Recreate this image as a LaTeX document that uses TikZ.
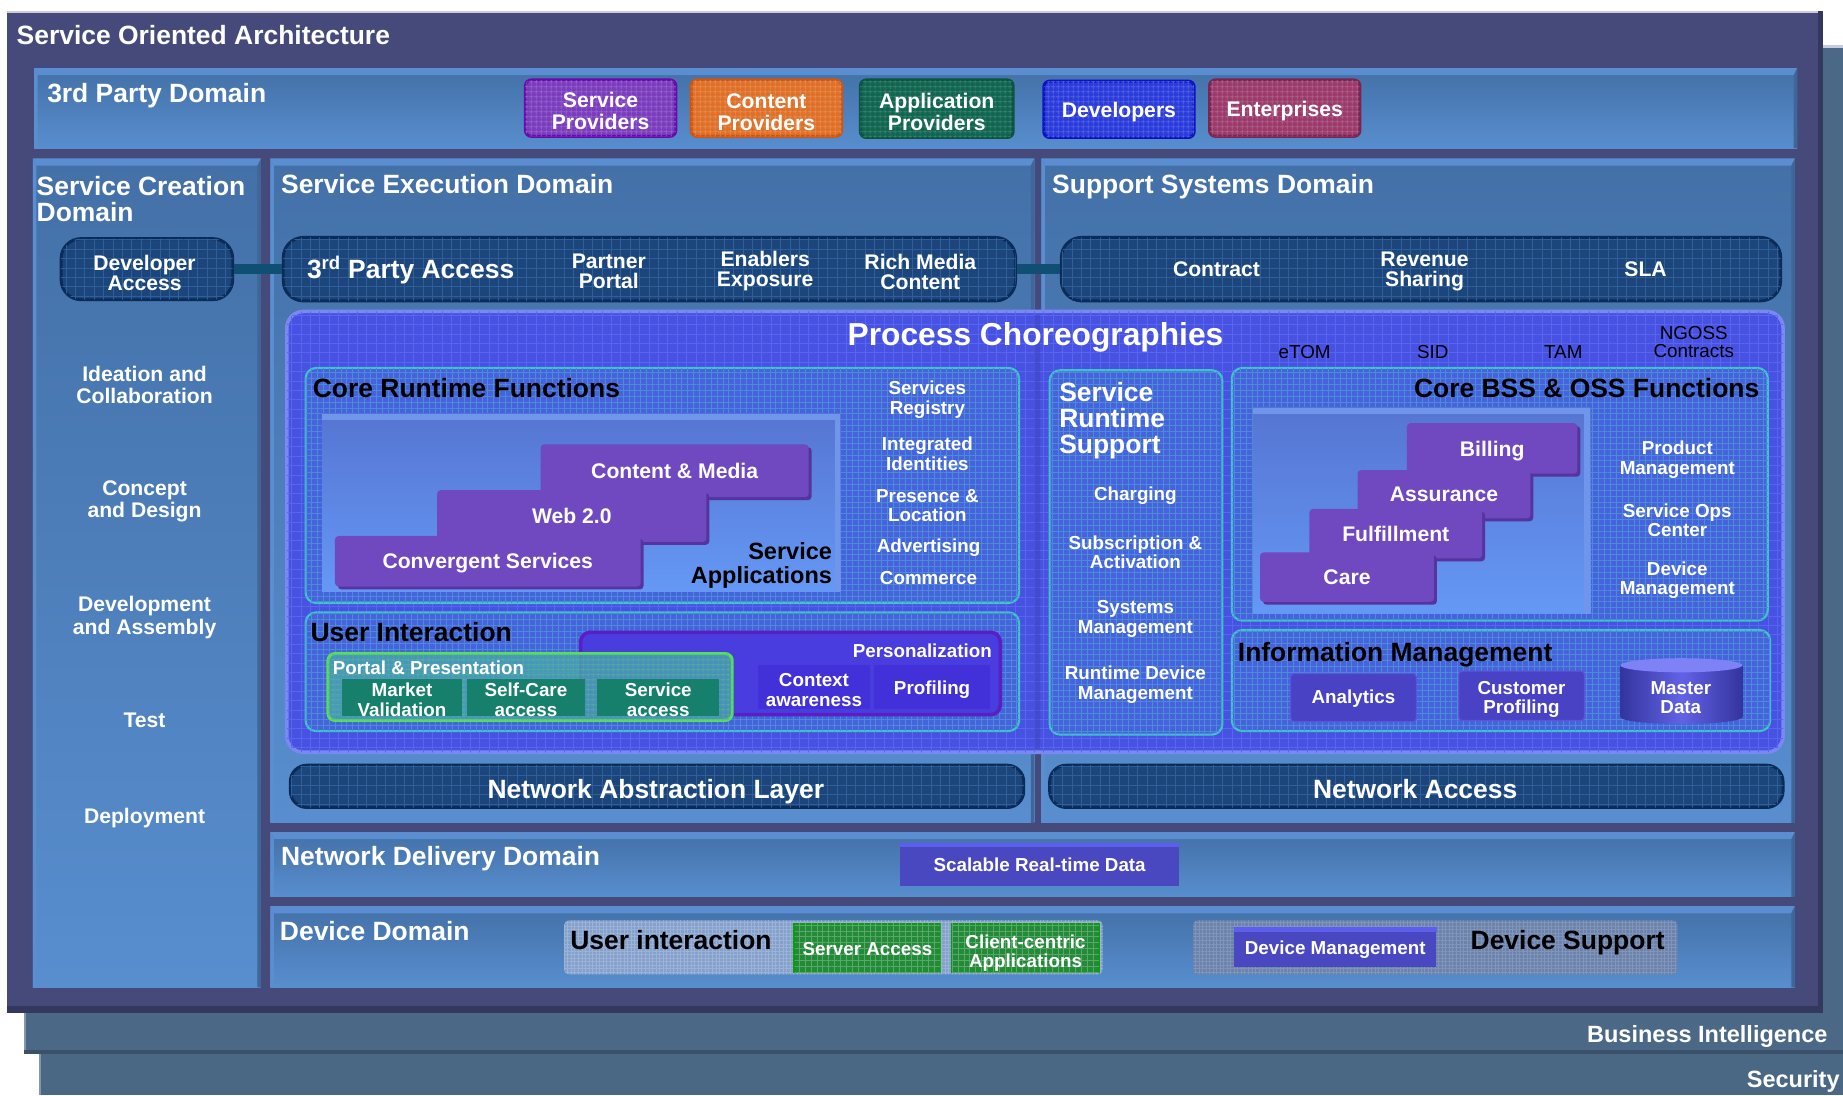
\documentclass[tikz,border=0pt]{standalone}
\usepackage{fontspec}
\setmainfont{Liberation Sans}
\usetikzlibrary{patterns.meta,shadows}
\definecolor{secC}{HTML}{4A6784}
\definecolor{secEdge}{HTML}{8296AE}
\definecolor{biC}{HTML}{4B6886}
\definecolor{biDk}{HTML}{3B5069}
\definecolor{soaC}{HTML}{464A7A}
\definecolor{soaDk}{HTML}{35385E}
\definecolor{soaLt}{HTML}{C9CBDD}
\definecolor{domTop}{HTML}{4370A7}
\definecolor{domBot}{HTML}{588ECF}
\definecolor{domLt}{HTML}{5A8ED0}
\definecolor{domDk}{HTML}{3E6699}
\definecolor{pillC}{HTML}{1C467B}
\definecolor{pillE}{HTML}{0B2C58}
\definecolor{pillG}{HTML}{2F5F98}
\definecolor{connC}{HTML}{0E4F73}
\definecolor{procC}{HTML}{4852E2}
\definecolor{procE}{HTML}{7C88F2}
\definecolor{procG}{HTML}{5865EE}
\definecolor{subC}{HTML}{4762DD}
\definecolor{subE}{HTML}{3CC6C8}
\definecolor{subG}{HTML}{4C8CD6}
\definecolor{panTop}{HTML}{5675D2}
\definecolor{panBot}{HTML}{6598F5}
\definecolor{panLt}{HTML}{7096EC}
\definecolor{purC}{HTML}{7049C0}
\definecolor{purD}{HTML}{5534A0}
\definecolor{persC}{HTML}{4A3DE0}
\definecolor{persE}{HTML}{5A1FC2}
\definecolor{ctxC}{HTML}{4231D8}
\definecolor{portC}{HTML}{4AA0B4}
\definecolor{portE}{HTML}{58DE58}
\definecolor{mktC}{HTML}{17806C}
\definecolor{anaC}{HTML}{4942C4}
\definecolor{anaE}{HTML}{5B55DA}
\definecolor{cylL}{HTML}{34349E}
\definecolor{cylM}{HTML}{6262E6}
\definecolor{cylT}{HTML}{7E82F6}
\definecolor{srdC}{HTML}{4A48C0}
\definecolor{srdLt}{HTML}{5E5EEE}
\definecolor{uipC}{HTML}{84A0CC}
\definecolor{dspC}{HTML}{6B82AC}
\definecolor{grnC}{HTML}{238A38}
\definecolor{grnE}{HTML}{0E9A0E}
\definecolor{spC}{HTML}{7B3DBE}
\definecolor{spE}{HTML}{6A0AAA}
\definecolor{cpC}{HTML}{E07028}
\definecolor{cpE}{HTML}{CF5512}
\definecolor{apC}{HTML}{106650}
\definecolor{apE}{HTML}{0A5542}
\definecolor{dvC}{HTML}{2B3CDC}
\definecolor{dvE}{HTML}{0A12C2}
\definecolor{enC}{HTML}{9B3B6C}
\definecolor{enE}{HTML}{7A2452}
\newcommand\myfs[2]{\fontsize{#1}{#2}\selectfont}
\newcommand\dombox[4]{%
  \path[top color=domTop, bottom color=domBot] (#1,#2) rectangle (#3,#4);
  \fill[domLt] (#1,#2) -- (#3,#2) -- (#3-3,#2+6) -- (#1+3,#2+6) -- cycle;
  \fill[domLt] (#1,#2) -- (#1+3,#2+6) -- (#1+3,#4) -- (#1,#4) -- cycle;
  \fill[domDk] (#3,#2) -- (#3,#4) -- (#3-3,#4) -- (#3-3,#2+6) -- cycle;}
\tikzset{
  wt/.style={text=white, align=center, inner sep=0pt, font=\bfseries\myfs{18}{17}},
  s18/.style={wt, text depth=0pt},
  p18/.style={wt, yshift=-2pt},
  m18/.style={wt, font=\bfseries\myfs{18}{19}, yshift=-2pt},
  w16/.style={wt, font=\bfseries\myfs{16}{16.5}},
  s16/.style={w16, text depth=0pt},
  m16/.style={w16, yshift=-2pt},
  w20/.style={wt, font=\bfseries\myfs{20}{20}},
  w22/.style={wt, font=\bfseries\myfs{22.5}{22}},
  b22/.style={w22, text=black},
  b20/.style={w20, text=black},
  r16/.style={inner sep=0pt, align=center, text=black, font=\myfs{16}{16}},
  gridpat/.style 2 args={postaction={pattern={Hatch[distance=#1,line width=0.5pt]}, pattern color=#2}},
  pill/.style={rounded corners=17pt, fill=pillC, draw=pillE, line width=2.5pt, inner sep=0pt, gridpat={8pt}{pillG}},
  npill/.style={pill, rounded corners=14pt},
  conn/.style={draw=connC, line width=8pt},
  subbox/.style={rounded corners=9pt, fill=subC, draw=subE, line width=1.8pt, gridpat={5pt}{subG}},
  purbox/.style={fill=purC, rounded corners=3pt, inner sep=0pt, text=white, font=\bfseries\myfs{18}{18}, text depth=0pt,
     drop shadow={shadow xshift=2.5pt, shadow yshift=-2.5pt, fill=purD, opacity=1}},
  tpbox/.style 2 args={fill=#1, draw=#2, line width=2.5pt, rounded corners=5pt, inner sep=0pt, minimum width=128pt, minimum height=48pt, gridpat={4pt}{#1!80!white}},
  mkt/.style={fill=mktC, inner sep=0pt, minimum width=102pt, minimum height=31pt},
  ctx/.style={fill=ctxC, inner sep=0pt, minimum height=37pt},
  ana/.style={fill=anaC, draw=anaE, line width=1pt, rounded corners=3pt, inner sep=0pt, minimum width=107pt, minimum height=41pt},
  grn/.style={fill=grnC, draw=grnE, line width=2pt, inner sep=0pt, minimum width=124pt, minimum height=41pt, gridpat={5pt}{grnC!75!white}},
  srd/.style={s16, fill=srdC, minimum height=35pt}
}
\begin{document}
\begin{tikzpicture}[x=1pt,y=-1pt]
\useasboundingbox (0,0) rectangle (1568,932);
% ---------- back layers
\fill[biC] (20,38) rectangle (1568,895);
\fill[secEdge] (20,38) rectangle (22,895);
\fill[secC] (33,895) rectangle (1568,932);
\fill[secEdge] (33,895) rectangle (35,932);
\fill[biDk] (20,893) rectangle (1568,897);
\fill[soaLt] (1551,38) rectangle (1568,41);
\node[w20, anchor=base east] (bi) at (1555,887) {Business Intelligence};
\node[w20, anchor=base west] (sec) at (1486,925) {Security};
% ---------- SOA frame
\fill[soaC] (6,9) rectangle (1551,862);
\fill[soaLt] (6,9) rectangle (1551,11);
\fill[soaDk] (6,856) rectangle (1551,862);
\fill[soaDk] (1547,9) rectangle (1551,862);
\node[w22, anchor=base west] (soat) at (14,38) {Service Oriented Architecture};
% ---------- domains
\dombox{29}{58}{1529}{126}
\dombox{28}{135}{222}{840}
\dombox{230}{135}{880}{700}
\dombox{886}{135}{1527}{700}
\dombox{230}{708}{1527}{763}
\dombox{230}{771}{1527}{840}
\node[w22, anchor=base west] (tpd) at (40,87) {3rd Party Domain};
\node[w22, anchor=north west, align=left] (scd) at (31,150) {Service Creation\\Domain};
\node[w22, anchor=base west] (sed) at (239,165) {Service Execution Domain};
\node[w22, anchor=base west] (ssd) at (895,165) {Support Systems Domain};
\node[w22, anchor=base west] (ndd) at (239,736) {Network Delivery Domain};
\node[w22, anchor=base west] (dd) at (238,800) {Device Domain};
% ---------- 3rd party boxes
\node[tpbox={spC}{spE}] (sp) at (511,92) {};
\node[m18] (spt) at (511,92.5) {Service\\Providers};
\node[tpbox={cpC}{cpE}] (cp) at (652,92) {};
\node[m18] (cpt) at (652,93.5) {Content\\Providers};
\node[tpbox={apC}{apE}, minimum width=130pt, minimum height=49pt] (ap) at (797,92.5) {};
\node[m18] (apt) at (797,93.5) {Application\\Providers};
\node[tpbox={dvC}{dvE}] (dv) at (952,93) {};
\node[s18] (dvt) at (952,93.5) {Developers};
\node[tpbox={enC}{enE}] (en) at (1093,92) {};
\node[s18] (ent) at (1093,93) {Enterprises};
% ---------- service creation column
\node[pill, minimum width=146pt, minimum height=52pt] (devacc) at (125,229) {};
\node[p18] (devaccT) at (123,230.5) {Developer\\Access};
\node[m18] (idea) at (123,325.5) {Ideation and\\Collaboration};
\node[m18] (conc) at (123,424.5) {Concept\\and Design};
\node[m18] (devas) at (123,523.5) {Development\\and Assembly};
\node[s18] (test) at (123,613) {Test};
\node[s18] (depl) at (123,694) {Deployment};
% ---------- access pills
\node[pill, minimum width=623pt, minimum height=54pt] (tpa) at (552.5,229) {};
\node[pill, minimum width=612pt, minimum height=54pt] (ssp) at (1209,229) {};
\draw[conn] (devacc.east) -- (tpa.west);
\draw[conn] (tpa.east) -- (ssp.west);
\node[w22, anchor=base west] (tpat) at (261,237) {3\textsuperscript{rd} Party Access};
\node[p18] (pp) at (518,229) {Partner\\Portal};
\node[p18] (ee) at (651,229) {Enablers\\Exposure};
\node[p18] (rmc) at (783,229) {Rich Media\\Content};
\node[s18] (ctr) at (1035,229) {Contract};
\node[p18] (rev) at (1212,229) {Revenue\\Sharing};
\node[s18] (sla) at (1400,229) {SLA};
% ---------- process choreographies
\path[rounded corners=14pt, fill=procC, draw=procE, line width=3pt, gridpat={8pt}{procG}] (244,265) rectangle (1517,640);
\fill[procC!85!black, opacity=0.5] (880,268) rectangle (885,637);
\node[wt, font=\bfseries\myfs{27}{27}, anchor=base] (pc) at (881,294) {Process Choreographies};
\node[r16, anchor=base] (etom) at (1110,305) {eTOM};
\node[r16, anchor=base] (sid) at (1219,305) {SID};
\node[r16, anchor=base] (tam) at (1330,305) {TAM};
\node[r16, yshift=-1pt] (ngoss) at (1441,290) {NGOSS\\Contracts};
% ---------- core runtime functions
\path[subbox] (260,313) rectangle (867,513);
\node[b22, anchor=base west] (crf) at (266,338) {Core Runtime Functions};
\path[top color=panTop, bottom color=panBot] (274,352) rectangle (715,503);
\fill[panLt] (274,352) rectangle (715,357);
\fill[panLt] (710,352) rectangle (715,503);
\node[purbox, minimum width=228pt, minimum height=45pt] (cm) at (574,400.5) {Content \& Media};
\node[purbox, minimum width=229pt, minimum height=44pt] (web) at (486.5,439) {Web 2.0};
\node[purbox, minimum width=260pt, minimum height=43pt] (conv) at (415,477.5) {Convergent Services};
\node[b20, anchor=north east, align=right] (sapp) at (708,461.5) {Service\\Applications};
\node[m16] (sreg) at (789,338) {Services\\Registry};
\node[m16] (iid) at (789,384) {Integrated\\Identities};
\node[m16] (ploc) at (789,428) {Presence \&\\Location};
\node[s16] (adv) at (790,464) {Advertising};
\node[s16] (com) at (790,492) {Commerce};
% ---------- user interaction
\path[subbox] (260,521) rectangle (867,622);
\node[b22, anchor=base west] (uit) at (264,546) {User Interaction};
\node[fill=persC, draw=persE, line width=3pt, rounded corners=8pt, minimum width=357pt, minimum height=70pt, inner sep=0pt] (pers) at (672.5,573) {};
\node[w16, anchor=base east] (perst) at (844,559) {Personalization};
\node[ctx, minimum width=95pt] (ctxa) at (692.5,584.5) {};
\node[m16] (ctxaT) at (692.5,585) {Context\\awareness};
\node[ctx, minimum width=98pt] (prof) at (793,584.5) {};
\node[s16] (profT) at (793,585) {Profiling};
\node[fill=portC, fill opacity=0.85, draw=portE, line width=2.5pt, rounded corners=6pt, minimum width=344pt, minimum height=57pt, inner sep=0pt, gridpat={4pt}{portE!40!portC}] (portal) at (451,584.5) {};
\node[w16, anchor=base west] (portt) at (283,574) {Portal \& Presentation};
\node[mkt] (mv) at (342,593.5) {};
\node[m16] (mvT) at (342,593.5) {Market\\Validation};
\node[mkt, minimum width=101pt] (sca) at (447.5,593.5) {};
\node[m16] (scaT) at (447.5,593.5) {Self-Care\\access};
\node[mkt, minimum width=104pt] (sva) at (560,593.5) {};
\node[m16] (svaT) at (560,593.5) {Service\\access};
% ---------- service runtime support
\path[subbox] (893,315) rectangle (1040,625);
\node[w22, anchor=north west, align=left] (srs) at (901,325) {Service\\Runtime\\Support};
\node[s16] (chg) at (966,420) {Charging};
\node[m16] (sub) at (966,468) {Subscription \&\\Activation};
\node[m16] (sysm) at (966,524.5) {Systems\\Management};
\node[m16] (rdm) at (966,580.5) {Runtime Device\\Management};
% ---------- core BSS & OSS
\path[subbox] (1048,313) rectangle (1504,528);
\node[b22, anchor=base east] (bss) at (1497,338) {Core BSS \& OSS Functions};
\path[top color=panTop, bottom color=panBot] (1066,347) rectangle (1353,522);
\fill[panLt] (1066,347) rectangle (1353,352);
\fill[panLt] (1348,347) rectangle (1353,522);
\node[purbox, minimum width=145pt, minimum height=43pt] (bill) at (1269.5,381.5) {Billing};
\node[purbox, minimum width=147pt, minimum height=41pt] (assu) at (1228.5,420.5) {Assurance};
\node[purbox, minimum width=147pt, minimum height=42pt] (ful) at (1187.5,454) {Fulfillment};
\node[purbox, minimum width=148pt, minimum height=42pt] (care) at (1146,491) {Care};
\node[m16] (pm) at (1427,389) {Product\\Management};
\node[m16] (soc) at (1427,440.5) {Service Ops\\Center};
\node[m16] (dm) at (1427,491.5) {Device\\Management};
% ---------- information management
\path[subbox] (1048,536) rectangle (1506,622);
\node[b22, anchor=base west] (imt) at (1053,563) {Information Management};
\node[ana] (anl) at (1151.5,593.5) {};
\node[s16] (anlT) at (1151.5,592.5) {Analytics};
\node[ana, minimum height=42pt] (cpr) at (1294.5,592) {};
\node[m16] (cprT) at (1294.5,593) {Customer\\Profiling};
\path[left color=cylL, right color=cylL, middle color=cylM] (1430.5,610) ellipse [x radius=52pt, y radius=6pt];
\path[left color=cylL, right color=cylL, middle color=cylM] (1378.5,566) rectangle (1482.5,610);
\fill[cylT] (1430.5,566) ellipse [x radius=52pt, y radius=6pt];
\node[m16] (mdat) at (1430,591.5) {Master\\Data};
% ---------- network pills
\node[npill, minimum width=624pt, minimum height=36pt] (nal) at (559,669) {};
\node[w22, anchor=base] (nalt) at (558,679) {Network Abstraction Layer};
\node[npill, minimum width=624pt, minimum height=36pt] (nac) at (1205,669) {};
\node[w22, anchor=base] (nact) at (1204,679) {Network Access};
% ---------- network delivery
\node[srd, minimum width=237pt, minimum height=37pt] (srdat) at (884.5,735.5) {Scalable Real-time Data};
\fill[srdLt] (srdat.north west) rectangle ([yshift=-4pt]srdat.north east);
% ---------- device domain
\path[fill=uipC, rounded corners=4pt, gridpat={3pt}{uipC!80!white}] (480,783) rectangle (938,829);
\node[b22, anchor=base west] (uidev) at (485,808) {User interaction};
\node[grn] (sva2) at (738,806.5) {};
\node[s16] (sva2T) at (738,807) {Server Access};
\node[grn, minimum width=125pt] (cca) at (872.5,806.5) {};
\node[m16] (ccaT) at (872.5,809) {Client-centric\\Applications};
\path[fill=dspC, rounded corners=4pt, gridpat={3pt}{dspC!85!white}] (1015,783) rectangle (1427,829);
\node[srd, minimum width=172pt, minimum height=34pt] (dmg) at (1136,806) {Device Management};
\fill[srdLt] (dmg.north west) rectangle ([yshift=-4pt]dmg.north east);
\node[b22, anchor=base west] (dsup) at (1251,808) {Device Support};
\end{tikzpicture}
\end{document}
